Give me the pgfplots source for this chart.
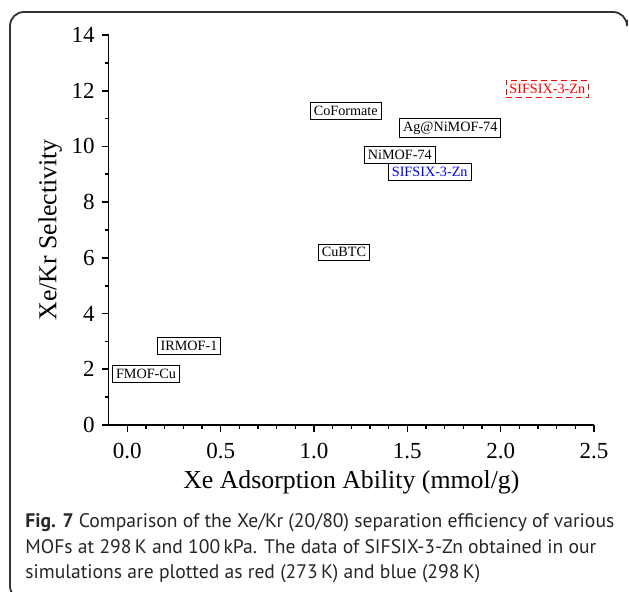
\documentclass[border=0pt]{standalone}
\usepackage{pgfplots}
\pgfplotsset{compat=1.18}
\usepackage{fontspec}
\setmainfont{Liberation Serif}
\newfontfamily\capfont{PT Sans}
\begin{document}
\begin{tikzpicture}[x=1pt,y=1pt]
\useasboundingbox (0,0) rectangle (314.5,-296);
% frame
\draw[line width=0.9pt, black!80, rounded corners=7pt] (313.5,-10) -- (313.5,-6) -- (5,-6) -- (5,-300) -- (12,-300);
\begin{axis}[
  at={(54.35pt,-212.5pt)}, anchor=south west,
  scale only axis, width=242.65pt, height=195pt,
  xmin=-0.1, xmax=2.5, ymin=0, ymax=14,
  axis x line*=bottom, axis y line*=left,
  axis line style={line width=0.8pt},
  xtick={0,0.5,1,1.5,2,2.5}, ytick={0,2,4,6,8,10,12,14},
  minor x tick num=4, minor y tick num=1,
  tick align=outside,
  major tick length=3.5pt, minor tick length=2pt,
  every tick/.style={line width=0.8pt, black},
  xticklabel style={/pgf/number format/fixed, /pgf/number format/fixed zerofill, /pgf/number format/precision=1, yshift=-2pt},
  /pgf/number format/assume math mode=true,
  tick label style={font=\fontsize{11.5}{13}\selectfont},
  xlabel={Xe Adsorption Ability (mmol/g)},
  ylabel={Xe/Kr Selectivity},
  label style={font=\fontsize{12.9}{15}\selectfont},
  xlabel style={at={(axis description cs:0.5,0)}, anchor=base, yshift=-32pt},
  ylabel style={yshift=-2pt},
  nodes near coords,
  point meta=explicit symbolic,
  nodes near coords align=center,
  every node near coord/.append style={anchor=center, draw, line width=0.5pt, inner sep=1.7pt, font=\fontsize{7.1}{8}\selectfont},
]
\addplot[draw=none, mark=none] table[meta=label] {
x y label
0.10 1.83 FMOF-Cu
0.33 2.84 IRMOF-1
1.16 6.20 CuBTC
1.17 11.27 CoFormate
1.73 10.66 Ag@NiMOF-74
1.46 9.69 NiMOF-74
};
\addplot[draw=none, mark=none, every node near coord/.append style={text=blue, draw=black}] table[meta=label] {
x y label
1.62 9.08 SIFSIX-3-Zn
};
\addplot[draw=none, mark=none, every node near coord/.append style={text=red, draw=red, densely dashed}] table[meta=label] {
x y label
2.25 12.06 SIFSIX-3-Zn
};
\end{axis}
\node[anchor=base west, inner sep=0pt, align=left, font=\capfont\fontsize{9.8}{12.75}\selectfont, text=black!85] at (12.5,-289.5)
{{\bfseries Fig. 7} Comparison of the Xe/Kr (20/80) separation efficiency of various\\
MOFs at 298\,K and 100\,kPa. The data of SIFSIX-3-Zn obtained in our\\
simulations are plotted as red (273\,K) and blue (298\,K)};
\end{tikzpicture}
\end{document}
